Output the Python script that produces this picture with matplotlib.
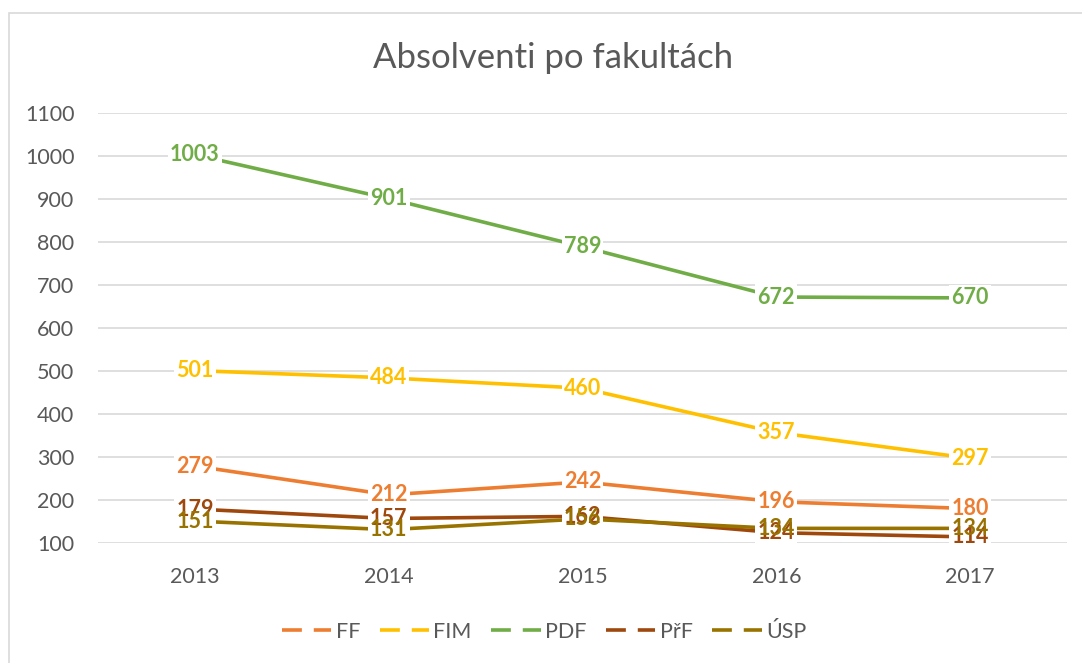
import matplotlib.pyplot as plt
from matplotlib.lines import Line2D
from matplotlib.patches import Rectangle

# Data
years = ['2013', '2014', '2015', '2016', '2017']
ff = [279, 212, 242, 196, 180]
fim = [501, 484, 460, 357, 297]
pdf = [1003, 901, 789, 672, 670]
prf = [179, 157, 162, 124, 114]
usp = [151, 131, 156, 134, 134]

series_names = ['FF', 'FIM', 'PDF', 'PřF', 'ÚSP']
series_values = [ff, fim, pdf, prf, usp]
colors = ['#ED7D31', '#FFC000', '#70AD47', '#9E480E', '#997300']

text_gray = '#595959'
grid_gray = '#D9D9D9'
fs = 15.5

plt.rcParams['font.family'] = ['Lato', 'DejaVu Sans']

fig = plt.figure(figsize=(10.82, 6.63), dpi=100)
ax = fig.add_axes([98 / 1082, 1 - 543 / 663, (1067 - 98) / 1082, (543 - 113) / 663])

# outer chart border
fig.patches.append(Rectangle((9 / 1082, -0.1), 1.2, 1 - 13 / 663 + 0.1,
                             transform=fig.transFigure, fill=False,
                             edgecolor=grid_gray, linewidth=1.2))

x = list(range(len(years)))
for i, (name, vals, c) in enumerate(zip(series_names, series_values, colors)):
    ax.plot(x, vals, color=c, linewidth=2.6, solid_capstyle='round', zorder=2)
    for xi, v in zip(x, vals):
        # white box behind the label (hides line and grid), text drawn above all boxes
        ax.text(xi, v, str(v), ha='center', va='center', color='none',
                fontsize=fs, fontweight='bold', zorder=3,
                bbox=dict(boxstyle='square,pad=0.1', fc='white', ec='none'))
        ax.text(xi, v, str(v), ha='center', va='center', color=c,
                fontsize=fs, fontweight='bold', zorder=4 + i)

ax.set_xlim(-0.5, len(years) - 0.5)
ax.set_ylim(100, 1100)
ax.set_yticks(range(100, 1101, 100))
ax.set_xticks(x)
ax.set_xticklabels(years)
ax.tick_params(axis='both', length=0, labelsize=fs, labelcolor=text_gray)
ax.tick_params(axis='y', pad=17)
ax.tick_params(axis='x', pad=17)
ax.grid(axis='y', color=grid_gray, linewidth=1.2, zorder=0)
ax.set_axisbelow(True)
for s in ax.spines.values():
    s.set_visible(False)

fig.text(553 / 1082, 1 - 58 / 663, 'Absolventi po fakultách', ha='center',
         va='center', fontsize=25, color=text_gray)

handles = [Line2D([0], [0], color=c, linewidth=2.6, linestyle=(0, (5.5, 3.3)))
           for c in colors]
fig.legend(handles, series_names, loc='center', ncol=5, frameon=False,
           bbox_to_anchor=(544 / 1082, 1 - 632 / 663), fontsize=fs,
           labelcolor=text_gray, handlelength=2.3, handletextpad=0.2,
           columnspacing=0.9)

fig.savefig('out.png', dpi=100)
